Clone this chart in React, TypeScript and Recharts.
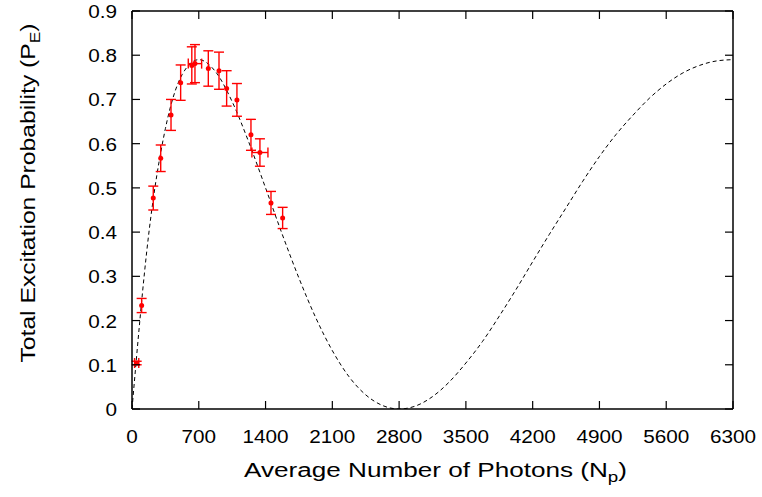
import { ComposedChart, Line, Scatter, ErrorBar, XAxis, YAxis } from "recharts"

// tick values
const X_TICKS = [0, 700, 1400, 2100, 2800, 3500, 4200, 4900, 5600, 6300]
const Y_TICKS = [0, 0.1, 0.2, 0.3, 0.4, 0.5, 0.6, 0.7, 0.8, 0.9]

// measured points
const PHOTONS = [49, 101, 223, 301, 409, 510, 627, 660, 800, 912, 992, 1100, 1247, 1341, 1457, 1579]
const PROB = [0.104, 0.234, 0.477, 0.567, 0.665, 0.738, 0.777, 0.781, 0.77, 0.765, 0.725, 0.699, 0.62, 0.58, 0.466, 0.432]
const PROB_ERR = [0.004, 0.016, 0.027, 0.03, 0.035, 0.04, 0.042, 0.043, 0.04, 0.042, 0.04, 0.037, 0.035, 0.031, 0.026, 0.024]
const PHOTON_ERR = [22, 0, 0, 0, 0, 0, 0, 70, 0, 0, 0, 0, 0, 84, 0, 0]

// dashed fit curve
const FIT_X = [
  0, 175, 350, 525, 700, 875, 1050, 1225, 1400, 1575, 1750, 1925, 2100, 2275, 2450, 2625, 2800, 2975, 3150,
  3325, 3500, 3675, 3850, 4025, 4200, 4375, 4550, 4725, 4900, 5075, 5250, 5425, 5600, 5775, 5950, 6125, 6300,
]
const FIT_Y = [
  0, 0.395, 0.634, 0.756, 0.79, 0.763, 0.695, 0.603, 0.5, 0.395, 0.296, 0.207, 0.132, 0.073, 0.032, 0.008, 0,
  0.007, 0.028, 0.061, 0.104, 0.153, 0.21, 0.27, 0.333, 0.395, 0.455, 0.515, 0.571, 0.621, 0.664, 0.703, 0.735,
  0.76, 0.777, 0.787, 0.79,
]

const points = PHOTONS.map((x, i) => ({
  x,
  y: PROB[i],
  ey: PROB_ERR[i],
  ex: PHOTON_ERR[i] || undefined,
}))
const fit = FIT_X.map((x, i) => ({ x, y: FIT_Y[i] }))

const FONT = "'Liberation Sans', Arial, Helvetica, sans-serif"
const TICK = 8

// tickSize is 1, so the axis line sits 1px from the x/y handed to the tick
const BottomTick = ({ x, y, payload }: any) => (
  <g>
    <line x1={x} y1={y - 1} x2={x} y2={y - 1 - TICK} stroke="#000" strokeWidth={1.2} />
    <text
      transform={`translate(${x},${y + 33}) scale(1.12,1)`}
      textAnchor="middle"
      fontSize={18.5}
      fontFamily={FONT}
      fill="#000"
    >
      {payload.value}
    </text>
  </g>
)

const TopTick = ({ x, y }: any) => (
  <line x1={x} y1={y + 1} x2={x} y2={y + 1 + TICK} stroke="#000" strokeWidth={1.2} />
)

const LeftTick = ({ x, y, payload }: any) => (
  <g>
    <line x1={x + 1} y1={y} x2={x + 1 + TICK} y2={y} stroke="#000" strokeWidth={1.2} />
    <text
      transform={`translate(${x - 14},${y + 7}) scale(1.12,1)`}
      textAnchor="end"
      fontSize={18.5}
      fontFamily={FONT}
      fill="#000"
    >
      {payload.value}
    </text>
  </g>
)

const RightTick = ({ x, y }: any) => (
  <line x1={x - 1} y1={y} x2={x - 1 - TICK} y2={y} stroke="#000" strokeWidth={1.2} />
)

const XTitle = ({ viewBox }: any) => {
  const cx = viewBox.x + viewBox.width / 2 + 3
  return (
    <text
      x={cx}
      y={viewBox.y + 68}
      textAnchor="middle"
      fontSize={19.5}
      fontFamily={FONT}
      textLength={383}
      lengthAdjust="spacingAndGlyphs"
      fill="#000"
    >
      Average Number of Photons (N
      <tspan dy={5} fontSize={14}>p</tspan>
      <tspan dy={-5}>)</tspan>
    </text>
  )
}

const YTitle = ({ viewBox }: any) => {
  const cy = viewBox.y + viewBox.height / 2 - 17
  return (
    <text
      transform={`translate(35,${cy}) rotate(-90)`}
      textAnchor="middle"
      fontSize={20}
      fontFamily={FONT}
      textLength={339}
      lengthAdjust="spacingAndGlyphs"
      fill="#000"
    >
      Total Excitation Probability (P
      <tspan dy={5} fontSize={14}>E</tspan>
      <tspan dy={-5}>)</tspan>
    </text>
  )
}

const Dot = ({ cx, cy }: any) => <circle cx={cx} cy={cy} r={2.5} fill="#ff0000" />

export default function App() {
  const axisLine = { stroke: "#000", strokeWidth: 1.5 }
  return (
    <div style={{ position: "absolute", left: 0, top: 0, background: "#fff" }}>
      <ComposedChart width={762} height={497} margin={{ top: 10, right: 28, bottom: 0, left: 0 }}>
        <XAxis
          dataKey="x"
          type="number"
          domain={[0, 6300]}
          ticks={X_TICKS}
          allowDataOverflow
          height={88}
          tickSize={1}
          tickMargin={0}
          tickLine={false}
          axisLine={axisLine}
          tick={<BottomTick />}
          interval={0}
          label={{ content: <XTitle /> }}
        />
        <XAxis
          xAxisId="top"
          orientation="top"
          dataKey="x"
          type="number"
          domain={[0, 6300]}
          ticks={X_TICKS}
          allowDataOverflow
          height={1}
          tickSize={1}
          tickMargin={0}
          tickLine={false}
          axisLine={axisLine}
          tick={<TopTick />}
          interval={0}
        />
        <YAxis
          type="number"
          domain={[0, 0.9]}
          ticks={Y_TICKS}
          allowDataOverflow
          width={132}
          tickSize={1}
          tickMargin={0}
          tickLine={false}
          axisLine={axisLine}
          tick={<LeftTick />}
          interval={0}
          label={{ content: <YTitle /> }}
        />
        <YAxis
          yAxisId="right"
          orientation="right"
          type="number"
          domain={[0, 0.9]}
          ticks={Y_TICKS}
          allowDataOverflow
          width={1}
          tickSize={1}
          tickMargin={0}
          tickLine={false}
          axisLine={axisLine}
          tick={<RightTick />}
          interval={0}
        />
        {/* invisible copy so the top/right frame axes get drawn */}
        <Line
          xAxisId="top"
          yAxisId="right"
          data={fit}
          dataKey="y"
          stroke="none"
          dot={false}
          activeDot={false}
          isAnimationActive={false}
        />
        <Line
          data={fit}
          dataKey="y"
          type="monotone"
          stroke="#000"
          strokeWidth={1}
          strokeDasharray="4 3"
          dot={false}
          activeDot={false}
          isAnimationActive={false}
        />
        <Scatter data={points} dataKey="y" shape={<Dot />} isAnimationActive={false}>
          <ErrorBar dataKey="ey" direction="y" width={5} stroke="#ff0000" strokeWidth={1.4} />
          <ErrorBar dataKey="ex" direction="x" width={5} stroke="#ff0000" strokeWidth={1.4} />
        </Scatter>
      </ComposedChart>
    </div>
  )
}
